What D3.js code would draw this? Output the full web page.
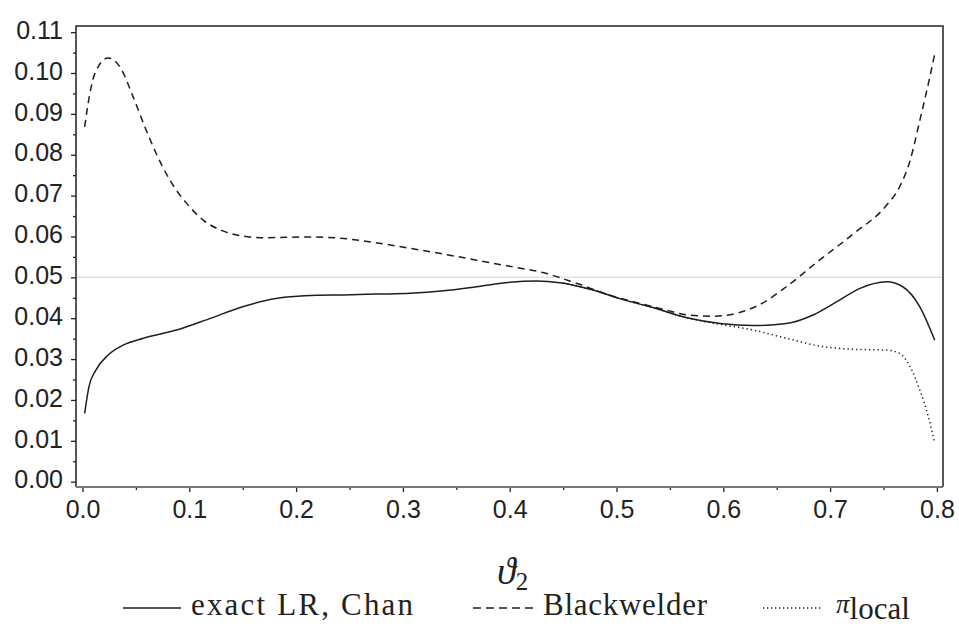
<!DOCTYPE html>
<html>
<head>
<meta charset="utf-8">
<style>
    body { margin: 0; background: #fff; }
    .tick text {
        font-family: 'Liberation Sans', Arial, sans-serif;
        font-size: 25px;
        fill: #222;
    }
    .tick line { stroke: #222; stroke-width: 1.3px; }
    .frame { fill: none; stroke: #222; stroke-width: 1.5px; }
    .bottomline { stroke: #777; stroke-width: 2px; }
    .refline { stroke: #e2e2e2; stroke-width: 1.5px; }
    .curve { fill: none; stroke: #1e1e1e; stroke-width: 1.5px; }
    .serif {
        font-family: "Liberation Serif", "Times New Roman", Times, Tinos, "DejaVu Serif", "Noto Serif", FreeSerif, serif;
        fill: #222;
    }
</style>
</head>
<body>
<svg id="chart" width="959" height="626"></svg>
<script src="https://cdn.jsdelivr.net/npm/d3@7"></script>
<script>
    // exact LR, Chan (solid)
    var exactX = [0.002, 0.006, 0.0125, 0.024, 0.038, 0.057, 0.088, 0.119, 0.150, 0.181, 0.219,
                  0.2445, 0.276, 0.307, 0.338, 0.369, 0.400, 0.425, 0.447, 0.478, 0.503, 0.534,
                  0.566, 0.597, 0.628, 0.659, 0.684, 0.706, 0.728, 0.753, 0.768, 0.784, 0.798];
    var exactY = [0.0167, 0.0232, 0.0273, 0.0310, 0.0334, 0.0351, 0.0371, 0.0399, 0.0428, 0.0448, 0.0456,
                  0.0457, 0.0459, 0.0461, 0.0467, 0.0477, 0.0488, 0.0491, 0.0487, 0.0469, 0.0448, 0.0426,
                  0.0401, 0.0387, 0.0382, 0.0387, 0.0408, 0.0440, 0.0473, 0.0489, 0.0477, 0.0428, 0.0346];

    // Blackwelder (dashed)
    var blackX = [0.002, 0.0069, 0.0116, 0.024, 0.035, 0.0475, 0.0584, 0.069, 0.0818, 0.0975, 0.113,
                  0.132, 0.150, 0.169, 0.213, 0.2445, 0.276, 0.307, 0.338, 0.369, 0.400, 0.432,
                  0.463, 0.494, 0.522, 0.545, 0.566, 0.592, 0.614, 0.636, 0.659, 0.690, 0.722,
                  0.753, 0.765, 0.775, 0.784, 0.792, 0.798];
    var blackY = [0.0868, 0.0950, 0.0999, 0.1037, 0.1015, 0.0941, 0.0868, 0.0803, 0.0738, 0.0681, 0.0640,
                  0.0613, 0.0601, 0.0597, 0.0599, 0.0595, 0.0584, 0.0571, 0.0557, 0.0542, 0.0527, 0.0511,
                  0.0485, 0.0456, 0.0436, 0.0421, 0.0408, 0.0405, 0.0413, 0.0436, 0.0477, 0.0542, 0.0607,
                  0.0677, 0.0721, 0.0787, 0.0884, 0.0974, 0.1047];

    // pi_local (dotted)
    var localX = [0.450, 0.478, 0.503, 0.534, 0.566, 0.597, 0.628, 0.659, 0.690, 0.722,
                  0.753, 0.765, 0.775, 0.784, 0.792, 0.798];
    var localY = [0.0486, 0.0469, 0.0448, 0.0426, 0.0401, 0.0385, 0.0371, 0.0351, 0.0332, 0.0324,
                  0.0322, 0.0314, 0.0281, 0.0224, 0.0159, 0.0094];

    var yTicks = [0, 0.01, 0.02, 0.03, 0.04, 0.05, 0.06, 0.07, 0.08, 0.09, 0.10, 0.11];
    var xTicks = [0, 0.1, 0.2, 0.3, 0.4, 0.5, 0.6, 0.7, 0.8];
    var refLevel = 0.05;
    var legendLabels = ['exact LR, Chan', 'Blackwelder', 'local'];

    var g_left = 76, g_right = 943, g_top = 26, g_bottom = 487;

    var chart = d3.select('#chart');
    var x = d3.scaleLinear().domain([-0.0061, 0.8057]).range([g_left, g_right]);
    var y = d3.scaleLinear().domain([-0.0013, 0.1115]).range([g_bottom, g_top]);

    // reference line at 0.05
    chart.append('line').attr('class', 'refline')
        .attr('x1', g_left).attr('x2', g_right)
        .attr('y1', y(refLevel)).attr('y2', y(refLevel));

    // -----------------------------------
    // axes: minor ticks then major ticks
    var yMinor = d3.range(0.005, 0.11, 0.01);
    var xMinor = d3.range(0.05, 0.8, 0.1);

    chart.append('g').attr('transform', 'translate(' + g_left + ',0)')
        .call(d3.axisLeft(y).tickValues(yMinor).tickSize(3).tickFormat(''))
        .call(function(g) { g.select('.domain').remove(); });
    var axisY = chart.append('g').attr('transform', 'translate(' + g_left + ',0)')
        .call(d3.axisLeft(y).tickValues(yTicks).tickSize(5).tickPadding(8)
              .tickFormat(d3.format('.2f')));
    axisY.select('.domain').remove();
    axisY.selectAll('text').attr('dy', '0.25em');

    chart.append('g').attr('transform', 'translate(0,' + g_bottom + ')')
        .call(d3.axisBottom(x).tickValues(xMinor).tickSize(3).tickFormat(''))
        .call(function(g) { g.select('.domain').remove(); });
    var axisX = chart.append('g').attr('transform', 'translate(0,' + g_bottom + ')')
        .call(d3.axisBottom(x).tickValues(xTicks).tickSize(5).tickPadding(8)
              .tickFormat(d3.format('.1f')));
    axisX.select('.domain').remove();

    // frame
    chart.append('path').attr('class', 'frame')
        .attr('d', 'M' + g_left + ',' + g_bottom + 'V' + g_top + 'H' + g_right + 'V' + g_bottom);
    chart.append('line').attr('class', 'bottomline')
        .attr('x1', g_left).attr('x2', g_right)
        .attr('y1', g_bottom).attr('y2', g_bottom);

    // -----------------------------------
    // curves
    var line = d3.line().curve(d3.curveMonotoneX)
        .x(function(d) { return x(d[0]); })
        .y(function(d) { return y(d[1]); });

    var series = [
        { xs: exactX, ys: exactY, dash: null },
        { xs: blackX, ys: blackY, dash: '7,5' },
        { xs: localX, ys: localY, dash: '1.3,3' }
    ];
    series.forEach(function(s) {
        chart.append('path').attr('class', 'curve')
            .datum(d3.zip(s.xs, s.ys))
            .attr('d', line)
            .attr('stroke-dasharray', s.dash);
    });

    // -----------------------------------
    // x axis label
    var xlab = chart.append('text').attr('class', 'serif')
        .attr('x', 497).attr('y', 584);
    xlab.append('tspan').attr('font-style', 'italic').attr('font-size', 38).text('ϑ');
    xlab.append('tspan').attr('dy', 6).attr('font-size', 25).text('2');

    // legend
    var legend = chart.append('g').attr('class', 'serif').attr('font-size', 31);
    var legendY = 608;
    var items = [
        { x0: 123, x1: 181, tx: 191, w: 222, dash: null },
        { x0: 473, x1: 533, tx: 543, w: 164, dash: '8,5' },
        { x0: 763, x1: 822, tx: 836, w: null, dash: '1.3,2.7' }
    ];
    items.forEach(function(it) {
        legend.append('line').attr('class', 'curve')
            .attr('x1', it.x0).attr('x2', it.x1)
            .attr('y1', legendY).attr('y2', legendY)
            .attr('stroke-dasharray', it.dash);
    });
    legend.append('text').attr('x', items[0].tx).attr('y', 615)
        .attr('textLength', items[0].w).attr('lengthAdjust', 'spacing').text(legendLabels[0]);
    legend.append('text').attr('x', items[1].tx).attr('y', 615)
        .attr('textLength', items[1].w).attr('lengthAdjust', 'spacing').text(legendLabels[1]);
    var pl = legend.append('text').attr('x', items[2].tx).attr('y', 613);
    pl.append('tspan').attr('font-style', 'italic').attr('font-size', 27).text('π');
    pl.append('tspan').attr('dy', 6).text(legendLabels[2]);
</script>
</body>
</html>
